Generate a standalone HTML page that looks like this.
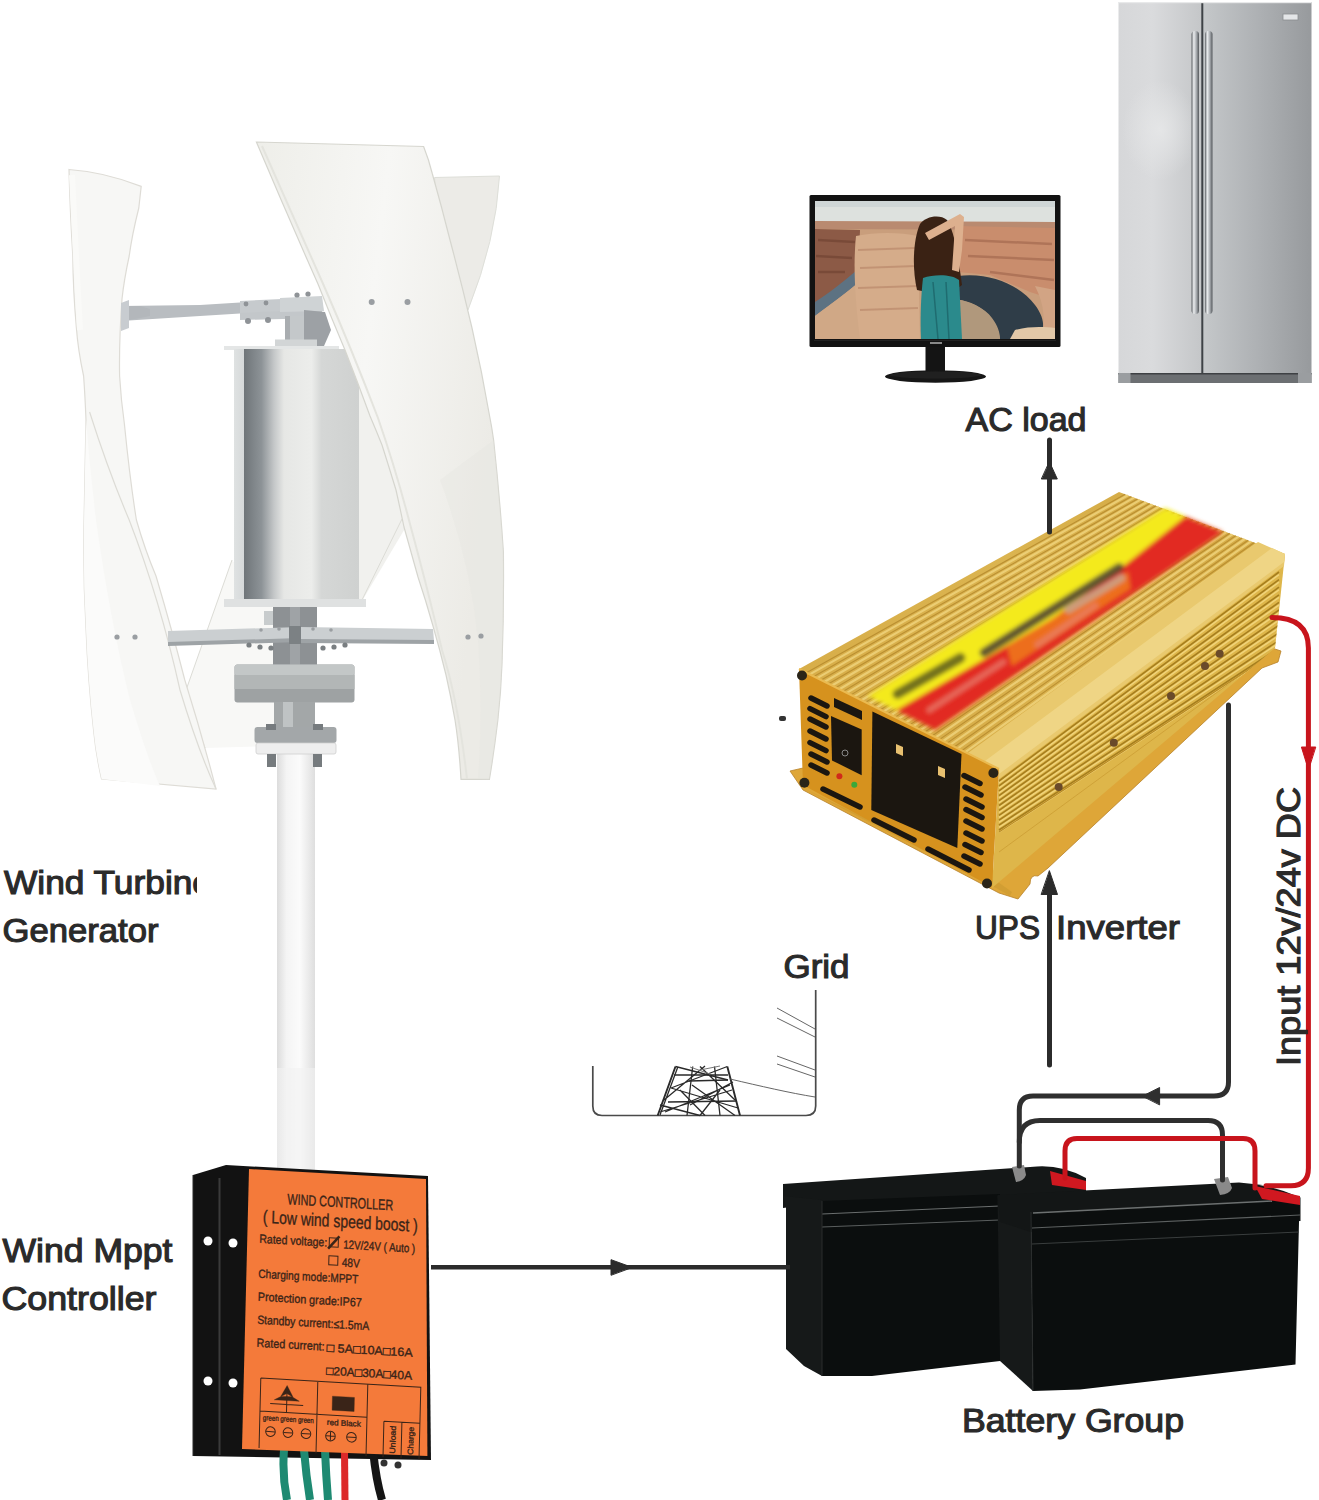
<!DOCTYPE html>
<html><head><meta charset="utf-8">
<style>
html,body{margin:0;padding:0;background:#fff;}
body{width:1319px;height:1500px;overflow:hidden;position:relative;font-family:"Liberation Sans",sans-serif;}
svg{position:absolute;left:0;top:0;display:block;}
.lbl{font-family:"Liberation Sans",sans-serif;font-weight:normal;fill:#2a2a2a;stroke:#2a2a2a;stroke-width:1.1px;font-size:32.5px;}
</style></head>
<body>
<svg width="1319" height="1500" viewBox="0 0 1319 1500">
<defs>
  <clipPath id="clipTurb"><rect x="0" y="0" width="197" height="1500"/></clipPath>
</defs>



<!-- TURBINE -->
<g id="turbine">
  <defs>
    <linearGradient id="cyl" x1="0" x2="1" y1="0" y2="0">
      <stop offset="0" stop-color="#dfe2e2"/><stop offset="0.08" stop-color="#d6d9da"/>
      <stop offset="0.08" stop-color="#6f7579"/><stop offset="0.22" stop-color="#8d9397"/><stop offset="0.32" stop-color="#c4c7c8"/>
      <stop offset="0.4" stop-color="#e6e7e5"/><stop offset="0.62" stop-color="#ecedeb"/><stop offset="0.7" stop-color="#d5d7d6"/><stop offset="1" stop-color="#cfd1d0"/>
    </linearGradient>
    <linearGradient id="pole" x1="0" x2="1"><stop offset="0" stop-color="#dcdcdc"/><stop offset="0.25" stop-color="#f4f4f4"/><stop offset="0.6" stop-color="#fbfbfb"/><stop offset="1" stop-color="#dedede"/></linearGradient>
    <linearGradient id="metal" x1="0" x2="1"><stop offset="0" stop-color="#8a8f92"/><stop offset="0.4" stop-color="#b9bdbf"/><stop offset="1" stop-color="#7c8184"/></linearGradient>
    <linearGradient id="disc" x1="0" x2="1"><stop offset="0" stop-color="#8f9497"/><stop offset="0.5" stop-color="#a9adaf"/><stop offset="1" stop-color="#8a8f91"/></linearGradient>
    <linearGradient id="bladeM" x1="0" y1="0" x2="1" y2="0.3"><stop offset="0" stop-color="#eeeee9"/><stop offset="0.5" stop-color="#f7f7f5"/><stop offset="1" stop-color="#ecebe6"/></linearGradient>
  </defs>
  <!-- back blade R (upper) -->
  <path d="M434.6,177.5 L499.5,176 Q496,240 468,310 L440,330 Z" fill="#ecebe7" stroke="#dedfd9" stroke-width="1"/>
  <!-- back blade R lower -->
  <path d="M355,370 L410,520 L359,606 Z" fill="#f1f1ee"/>
  <path d="M402,519 L359,606" stroke="#dcdcd6" stroke-width="1"/>
  <path d="M232,560 L300,640 L300,745 L205,748 L185,693 Z" fill="#f8f8f6"/>
  <path d="M232,560 L185,693 L205,748" fill="none" stroke="#dcdcd6" stroke-width="1"/>
  <!-- L blade -->
  <path d="M69,169.5 Q105,172 141.2,186.4 L138.8,208 Q132,235 129.2,256 Q124,280 122,299 Q119,340 119.6,376 Q121,400 124.4,424 Q130,480 136.4,520 Q145,550 156,576 Q172,630 184.8,680 Q202,735 216,789 L101.6,779 Q96,755 93.8,732 Q88,680 86,628 Q83,576 84,524 Q85,470 86,420 Q85,395 83.6,376 Q78,350 76.4,328 Q73,290 72.8,256 Q70,210 69,169.5 Z" fill="#f7f7f5" stroke="#dedcd6" stroke-width="1.2"/>
  <path d="M89.6,412 Q108,470 129.2,520 Q160,600 180,690 Q198,750 216,789" fill="none" stroke="#dddcd6" stroke-width="1.2"/>
  <path d="M86,420 Q90,470 96,520 Q110,620 130,700 Q148,760 160,786 L101.6,779 Q96,755 93.8,732 Q88,680 86,628 Q83,576 84,524 Z" fill="#fbfbfa"/>
  <path d="M72,175 Q76,260 80,330" stroke="#fafaf8" stroke-width="6" fill="none"/>
  <!-- pole -->
  <rect x="277" y="745" width="38" height="425" fill="url(#pole)"/>
  <rect x="277" y="1068" width="38" height="102" fill="#f1f1f1" opacity="0.6"/>
  <!-- top arm -->
  <path d="M121,306 L200,305 L282,300 L282,311 L200,316 L121,321 Z" fill="#b9bdc1"/>
  <path d="M121,303 L129,300 L129,328 L121,331 Z" fill="#c8ccd0"/>
  <path d="M129,306 L140,306 L150,309 L150,316 L140,318 L129,320 Z" fill="#b3b7bb"/>
  <path d="M240,312 L322,309 L322,318 L240,320 Z" fill="#c3c7ca"/>
  <path d="M240,301 L282,299 L282,311 L240,313 Z" fill="#c6cacd"/>
  <path d="M280,298 L322,296 L324,311 L280,312 Z" fill="#cfd3d5"/>
  <g fill="#8f9397"><circle cx="246" cy="304" r="2.4"/><circle cx="266" cy="303" r="2.4"/><circle cx="248" cy="321" r="3"/><circle cx="268" cy="320" r="3"/><circle cx="297" cy="295" r="2.6"/><circle cx="308" cy="294" r="2.6"/></g>
  <!-- top shaft -->
  <rect x="285" y="316" width="20" height="25" fill="#c4c8ca"/>
  <rect x="285" y="316" width="5" height="25" fill="#a9adb0"/>
  <path d="M304,310 L325,312 L331,330 L324,346 L304,346 Z" fill="#9da1a5"/>
  <rect x="275" y="339.5" width="42" height="8" fill="#d2d5d6"/>
  <!-- cylinder -->
  <rect x="224" y="346" width="115" height="4" fill="#e4e6e6"/>
  <rect x="234" y="349" width="125" height="252" fill="url(#cyl)"/>
  <rect x="224" y="599" width="142" height="8" fill="#dfe1e1"/>
  <!-- lower shaft & arms -->
  <rect x="273" y="607" width="44" height="63" fill="#8d9194"/>
  <rect x="290" y="607" width="10" height="63" fill="#9fa3a6"/>
  <path d="M264,611 L273,611 L273,625 L264,625 Z" fill="#c8cccd"/>
  <path d="M168,631 L300,627 L300,640 L168,644 Z" fill="#cbcfd1"/>
  <path d="M168,642 L300,638 L300,642 L168,646 Z" fill="#9ea3a6"/>
  <path d="M300,627 L433,629 L434,641 L300,640 Z" fill="#cbcfd1"/>
  <path d="M300,639 L434,640 L434,644 L300,643 Z" fill="#9ea3a6"/>
  <rect x="289" y="626" width="12" height="18" fill="#7c8184"/>
  <g fill="#7a7f82"><circle cx="249" cy="645" r="2.6"/><circle cx="260" cy="647" r="2.6"/><circle cx="271" cy="648" r="2.6"/><circle cx="323" cy="648" r="2.6"/><circle cx="334" cy="647" r="2.6"/><circle cx="345" cy="645" r="2.6"/></g>
  <g fill="#9a9ea1"><circle cx="261" cy="630" r="1.8"/><circle cx="279" cy="629" r="1.8"/><circle cx="313" cy="629" r="1.8"/><circle cx="331" cy="630" r="1.8"/></g>
  <!-- disc -->
  <rect x="234.5" y="664.5" width="120" height="38" rx="3" fill="#9ea2a3"/>
  <rect x="234.5" y="664.5" width="120" height="11" rx="3" fill="#c3c7c7"/>
  <rect x="234.5" y="675" width="120" height="14" fill="#b2b6b6"/>
  <rect x="274" y="702" width="41" height="25" fill="#a3a7a8"/>
  <rect x="283" y="702" width="10" height="25" fill="#bfc3c4"/>
  <!-- tflange -->
  <rect x="254.5" y="727" width="82" height="16" rx="3" fill="#a3a7a9"/>
  <rect x="256" y="743" width="80" height="11" rx="2" fill="#eeeeee" stroke="#cfcfcf" stroke-width="0.8"/>
  <g fill="#767b7e"><rect x="266" y="724" width="10" height="6"/><rect x="313" y="724" width="10" height="6"/><rect x="267" y="754" width="9" height="13"/><rect x="313" y="754" width="9" height="13"/></g>
  <!-- M blade (front) -->
  <path d="M256.4,142 L423.6,146.5 Q429,160 432.4,174 Q442,208 450,240 Q462,285 472,328 Q482,372 489.6,416 Q492,428 493.6,440 Q500,500 503.4,552 Q504,610 502,664 Q501,692 497.8,720.5 Q494,752 489.4,779.4 L461,779.4 Q459,745 455,720 Q451,697 446,675 Q440,650 433,626 Q426,601 418,577 Q411,552 404,527 Q400,508 396,490 Q389,467 382,445 Q376,430 370,416 Q358,383 345,350 Q331,317 318,284 Q286,212 256.4,142 Z" fill="url(#bladeM)" stroke="#d6d6cf" stroke-width="1.2"/>
  <path d="M262,146 Q292,214 324,286 Q352,350 378,418 Q396,470 410,524 Q428,590 442,650 Q458,700 467,779" fill="none" stroke="#e4e4de" stroke-width="2"/>
  <path d="M440,480 Q470,560 478,640 Q483,710 478,779 L489.4,779.4 Q494,752 497.8,720.5 Q501,692 502,664 Q504,610 503.4,552 Q500,500 493.6,440 Z" fill="#e6e5e0" opacity="0.4"/>
  <g fill="#9a9ea2"><circle cx="371.7" cy="302" r="3"/><circle cx="407.5" cy="302" r="3"/><circle cx="468" cy="637" r="2.6"/><circle cx="481" cy="636" r="2.6"/><circle cx="117" cy="637" r="2.6"/><circle cx="135" cy="637" r="2.6"/></g>
</g>

<!-- FRIDGE -->
<g id="fridge">
  <defs>
    <linearGradient id="frL" x1="0" x2="1" y1="0" y2="0"><stop offset="0" stop-color="#d6d7d9"/><stop offset="0.4" stop-color="#dadbdd"/><stop offset="1" stop-color="#c4c6c8"/></linearGradient>
    <linearGradient id="frR" x1="0" x2="1" y1="0" y2="0"><stop offset="0" stop-color="#c5c8ca"/><stop offset="0.5" stop-color="#aeb1b4"/><stop offset="1" stop-color="#979a9d"/></linearGradient>
    <linearGradient id="hdl" x1="0" x2="1"><stop offset="0" stop-color="#5e6266"/><stop offset="0.3" stop-color="#eceef0"/><stop offset="0.65" stop-color="#a8acb0"/><stop offset="1" stop-color="#54585c"/></linearGradient>
    <radialGradient id="frBlob" cx="0.5" cy="0.5" r="0.5"><stop offset="0" stop-color="#e6e7e8" stop-opacity="0.9"/><stop offset="1" stop-color="#e6e7e8" stop-opacity="0"/></radialGradient>
  </defs>
  <rect x="1118.5" y="2" width="84" height="372" fill="url(#frL)"/>
  <rect x="1202.5" y="2" width="109" height="372" fill="url(#frR)"/>
  <ellipse cx="1160" cy="130" rx="38" ry="50" fill="url(#frBlob)"/>
  <rect x="1201.3" y="3" width="2" height="370" fill="#3e4246"/>
  <rect x="1118.5" y="373" width="193" height="10" fill="#6c6f72"/><rect x="1118.5" y="373" width="193" height="1.5" fill="#3e4144"/>
  <rect x="1118.5" y="373" width="12" height="10" fill="#9a9da0"/>
  <rect x="1298" y="373" width="13.5" height="10" fill="#9a9da0"/>
  <rect x="1118.5" y="2" width="193" height="1.2" fill="#e8e9ea"/>
  <rect x="1191.5" y="31" width="7.5" height="283" rx="3.5" fill="url(#hdl)"/>
  <rect x="1205" y="31" width="7.5" height="283" rx="3.5" fill="url(#hdl)"/>
  <rect x="1283" y="14" width="15" height="6" fill="#e4e6e8" stroke="#8a8d90" stroke-width="0.8"/>
</g>

<!-- MONITOR -->
<g id="monitor">
  <defs>
    <clipPath id="scr"><rect x="815" y="201" width="240" height="138"/></clipPath>
    <linearGradient id="sky" x1="0" y1="0" x2="0" y2="1"><stop offset="0" stop-color="#c4ccce"/><stop offset="1" stop-color="#d9d6cc"/></linearGradient>
  </defs>
  <rect x="809.5" y="195" width="251" height="152" rx="1.5" fill="#121212"/>
  <g clip-path="url(#scr)">
    <rect x="815" y="201" width="240" height="138" fill="#c99e7c"/>
    <rect x="815" y="201" width="240" height="21" fill="#dde1de"/>
    <rect x="815" y="201" width="240" height="6" fill="#cfd6d6"/>
    <path d="M815,221 L1055,222 L1055,230 L815,229 Z" fill="#b98a70"/>
    <path d="M815,229 L860,230 L858,275 L840,290 L815,305 Z" fill="#8c5a46"/>
    <path d="M818,240 L855,242 M816,256 L852,258 M818,272 L845,272" stroke="#6e4030" stroke-width="2.5" opacity="0.6"/>
    <path d="M815,302 C828,294 843,282 857,270 L859,282 C846,293 830,305 815,316 Z" fill="#5d7282"/>
    <path d="M815,316 C830,305 846,293 859,282 L862,339 L815,339 Z" fill="#d0a886"/>
    <path d="M856,236 C875,232 900,232 918,236 L920,339 L860,339 C855,300 853,265 856,236 Z" fill="#d5ac8a"/>
    <path d="M858,250 L915,248 M860,268 L916,266 M858,288 L918,286 M860,310 L918,308" stroke="#b07c60" stroke-width="2" opacity="0.5"/>
    <path d="M955,226 L1055,228 L1055,300 L1030,292 L990,275 L958,272 Z" fill="#c98d6d"/>
    <path d="M965,240 L1052,244 M968,256 L1054,260 M990,272 L1054,280" stroke="#9a6048" stroke-width="2.5" opacity="0.55"/>
    <path d="M958,276 C990,272 1020,285 1035,305 C1045,318 1045,330 1040,339 L1000,339 C998,325 990,312 975,305 C968,302 962,300 958,300 Z" fill="#2f3d48"/>
    <path d="M958,300 C968,300 985,308 992,318 C998,326 1000,333 1000,339 L958,339 Z" fill="#b0987c"/>
    <path d="M1035,286 L1055,290 L1055,339 L1040,339 C1046,325 1045,305 1035,286 Z" fill="#d2a484"/>
    <path d="M1015,330 C1030,326 1045,327 1055,328 L1055,339 L1010,339 Z" fill="#e2c8a8"/>
    <!-- woman -->
    <path d="M920,224 C926,216 940,214 947,220 C954,230 958,255 962,285 C955,292 935,294 917,290 C912,268 913,240 920,224 Z" fill="#3a2214"/>
    <path d="M925,233 L960,214 L964,217 L962,250 L959,272 L952,270 L955,226 L929,240 Z" fill="#ddb08e"/>
    <path d="M923,278 C934,274 952,274 959,280 L962,339 L921,339 C920,318 921,295 923,278 Z" fill="#2b8a8c"/>
    <path d="M933,282 L938,339 M946,282 L949,339" stroke="#1f6c70" stroke-width="1.5"/>
  </g>
  <rect x="814" y="340" width="242" height="1" fill="#222"/>
  <rect x="925.5" y="347" width="19.5" height="25" fill="#141414"/>
  <ellipse cx="935.5" cy="376.5" rx="50.5" ry="6.2" fill="#161616"/>
  <ellipse cx="935.5" cy="375" rx="46" ry="3.5" fill="#202020"/>
  <rect x="930" y="342" width="12" height="2" fill="#888"/>
</g>

<!-- BATTERIES -->
<g id="batteries">
  <path d="M783,1184 L1037,1166.5 Q1062,1165 1086,1178 L1086,1193 L1000,1197 L822,1203 L783,1208 Z" fill="#141717"/>
  <path d="M783,1196 L822,1200 L822,1376 L804,1366 L786,1349 L786,1207 Z" fill="#161919"/>
  <path d="M822,1201 L1000,1194 L1000,1361 L872,1376 L822,1376 Z" fill="#0b0e0e"/>
  <path d="M822,1214 L1000,1206" stroke="#6a6e6e" stroke-width="1.2"/>
  <path d="M822,1227 L1000,1220" stroke="#5a5e5e" stroke-width="1"/>
  <path d="M822,1201 L822,1376" stroke="#2a2d2d" stroke-width="1"/>
  <path d="M1050,1171 L1086,1181 L1086,1190 L1052,1185 Z" fill="#d01820"/>
  <path d="M1012,1167 L1024,1165 L1026,1175 Q1024,1181 1016,1182 Z" fill="#8a8a8a"/>
  <path d="M997.5,1196 L1031,1212 L1033,1391 L1000,1361 Z" fill="#161919"/>
  <path d="M997.5,1195 L1239,1182.4 Q1270,1184 1300.5,1197.4 L1300.5,1221 L1031,1232 L1000,1222 Z" fill="#131616"/>
  <path d="M1031,1214 L1300,1199 L1299,1222 L1295.5,1364.5 L1080,1389.4 L1033,1391 Z" fill="#0b0e0e"/>
  <path d="M1033,1213 L1272,1201" stroke="#6c7070" stroke-width="1.3"/>
  <path d="M1032,1228 L1300,1215" stroke="#5c6060" stroke-width="1.1"/>
  <path d="M1032,1244 L1299,1232" stroke="#3a3e3e" stroke-width="1"/>
  <path d="M1031,1212 L1033,1391" stroke="#2a2d2d" stroke-width="1"/>
  <path d="M1255,1186 L1300,1196 L1300,1205 L1262,1199 Z" fill="#d01820"/>
  <path d="M1214,1179 L1228,1177 L1232,1188 Q1230,1194 1220,1195 Z" fill="#8a8a8a"/>
</g>

<!-- INVERTER -->
<g id="inverter">
  <defs>
    <linearGradient id="invTop" x1="0" y1="1" x2="1" y2="0"><stop offset="0" stop-color="#d6ab46"/><stop offset="0.6" stop-color="#dbb450"/><stop offset="1" stop-color="#d2a842"/></linearGradient>
    <filter id="blur3" x="-20%" y="-20%" width="140%" height="140%"><feGaussianBlur stdDeviation="2.2"/></filter>
  </defs>
  <!-- flange -->
  <path d="M790,771 L803,768 L995,872 L1272,648 L1281,651 L1278,662 L1262,668 L1048,868 L1038,876 Q1030,874 1030,884 L1018,899 L999,893 L803,790 Z" fill="#dea638" stroke="#b8822a" stroke-width="0.8"/>
  <path d="M803,788 L996,888 L1010,896 L1012,892 L998,882 Z" fill="#c99a30" opacity="0.6"/>
  
  
  <!-- right side -->
  <clipPath id="sideClip"><path d="M999,769 L1285,554 L1275,648 L992,888 Z"/></clipPath>
  <path d="M999,769 L1285,554 L1275,648 L992,888 Z" fill="#deb64a"/>
  <g clip-path="url(#sideClip)">
  <path d="M999,783.2L1279,574.6M999,788.1L1279,582.2M999,793.0L1279,589.8M999,797.9L1279,597.4M999,802.8L1279,605.0M999,807.7L1279,612.6M999,812.6L1279,620.2M999,817.5L1279,627.8M999,822.4L1279,635.4M999,827.3L1279,643.0M999,832.2L1279,650.6" stroke="#f2d67e" stroke-width="1.6" fill="none" opacity="0.9"/>
  <path d="M999,781.0L1279,572.0M999,785.9L1279,579.6M999,790.8L1279,587.2M999,795.7L1279,594.8M999,800.6L1279,602.4M999,805.5L1279,610.0M999,810.4L1279,617.6M999,815.3L1279,625.2M999,820.2L1279,632.8M999,825.1L1279,640.4M999,830.0L1279,648.0" stroke="#9c7416" stroke-width="1.6" fill="none" opacity="0.85"/>
  <path d="M999,832 L1279,650" stroke="#b88a24" stroke-width="1.2" fill="none"/>
  <path d="M999,852 L1275,650" stroke="#c99a30" stroke-width="1" fill="none" opacity="0.7"/>
  </g>
  <!-- top -->
  <path d="M799,669 L1119,492 L1285,554 L999,769 Z" fill="url(#invTop)"/>
  <path d="M809.7,674.4L1127.9,495.3M817.1,678.1L1134.1,497.6M824.6,681.8L1140.2,499.9M832.0,685.5L1146.4,502.2M839.4,689.2L1152.5,504.5M846.8,692.9L1158.7,506.8M854.2,696.6L1164.8,509.1M861.6,700.3L1171.0,511.4M869.0,704.0L1177.1,513.7M876.4,707.7L1183.2,516.0M883.8,711.4L1189.4,518.3M891.2,715.1L1195.5,520.6M898.6,718.8L1201.7,522.9M906.0,722.5L1207.8,525.2M913.4,726.2L1214.0,527.5M920.9,729.9L1220.1,529.8M928.3,733.6L1226.3,532.1M935.7,737.3L1232.4,534.4M943.1,741.0L1238.6,536.7M950.5,744.7L1244.7,539.0M957.9,748.4L1250.9,541.3M965.3,752.1L1257.0,543.6M972.7,755.9L1263.2,545.8M980.1,759.6L1269.3,548.1M987.5,763.3L1275.5,550.4M994.9,767.0L1281.6,552.7" stroke="#f0d47e" stroke-width="2.2" fill="none" opacity="0.8"/><path d="M806.4,672.7L1125.1,494.3M813.8,676.4L1131.3,496.6M821.2,680.1L1137.4,498.9M828.6,683.8L1143.6,501.2M836.0,687.5L1149.7,503.5M843.4,691.2L1155.9,505.8M850.9,694.9L1162.0,508.1M858.3,698.6L1168.2,510.4M865.7,702.3L1174.3,512.7M873.1,706.0L1180.5,515.0M880.5,709.7L1186.6,517.3M887.9,713.4L1192.8,519.6M895.3,717.1L1198.9,521.9M902.7,720.9L1205.1,524.1M910.1,724.6L1211.2,526.4M917.5,728.3L1217.4,528.7M924.9,732.0L1223.5,531.0M932.3,735.7L1229.7,533.3M939.7,739.4L1235.8,535.6M947.1,743.1L1242.0,537.9M954.6,746.8L1248.1,540.2M962.0,750.5L1254.3,542.5M969.4,754.2L1260.4,544.8M976.8,757.9L1266.6,547.1M984.2,761.6L1272.7,549.4M991.6,765.3L1278.9,551.7" stroke="#b08428" stroke-width="1.1" fill="none" opacity="0.75"/>
  <path d="M968,753 L1258,542 L1285,554 L1284,566 L999,779 L999,769 Z" fill="#e9c96e"/>
  <path d="M985,761 L1272,548 L1285,554 L1284,562 L999,774 L999,769 Z" fill="#efd585"/>
  
  <!-- label -->
  <g filter="url(#blur3)">
    <path d="M868.0,696.0 L1165.0,508.0 L1223.0,532.0 L935.0,730.0 Z" fill="#f4ea1e"/>
    <path d="M896.1,710.3 L974.6,664.8 L1052.8,618.8 L1120.9,568.2 L1185.3,516.4 L1223.0,532.0 L935.0,730.0 Z" fill="#e22a22"/>
    <path d="M1007.1,647.0 L1128.1,571.4 L1130.5,588.7 L1011.8,666.0 Z" fill="#f0801e" opacity="0.8"/>
    <path d="M984.1,652.6 L1119.1,567.5" stroke="#4a4030" stroke-width="9" stroke-linecap="round" opacity="0.85"/>
    <path d="M897.5,694.0 L960.4,657.8" stroke="#4a4a20" stroke-width="10" stroke-linecap="round" opacity="0.75"/>
    <path d="M929.4,710.1 L1003.4,661.9 M1037.5,644.8 L1095.5,605.6" stroke="#e88070" stroke-width="6" stroke-linecap="round" opacity="0.7"/>
    <path d="M1068.6,609.7 L1121.2,578.1" stroke="#c8a890" stroke-width="8" stroke-linecap="round" opacity="0.8"/>
  </g>
  <!-- front face -->
  <path d="M799,669 L999,769 L992,887 L803,785 Z" fill="#d6921e"/>
  <path d="M799,669 L999,769" stroke="#eaba50" stroke-width="2"/>
  <g fill="#1b1610">
    <path d="M872.4,711.6 L961.5,754 L957.3,848 L871.3,810 Z"/>
    <path d="M831,716 L861.7,729.6 L861.7,775.3 L832,760.4 Z"/>
    <path d="M834,698 L862,711 L862,720 L834,707 Z"/>
  </g>
  <g fill="#e8c070">
    <path d="M896,744 L903,747 L903,756 L896,753 Z"/>
    <path d="M938,766 L945,769 L945,778 L938,775 Z"/>
  </g>
  <circle cx="845" cy="753" r="3" fill="none" stroke="#888" stroke-width="1"/>
  <circle cx="839.4" cy="776.3" r="3" fill="#d02a1a"/>
  <circle cx="854.3" cy="784.8" r="3" fill="#3aa83a"/>
  <g stroke="#1b1610" stroke-width="5.5" stroke-linecap="round">
    <path d="M811,698 L827,706 M810,708.6 L826,716.6 M810,719 L826,727 M810,731 L826,739 M810,742.6 L826,750.6 M811,754 L827,762 M811,765 L827,773"/>
    <path d="M964,775.5 L980,783.5 M965,787 L981,795 M966,799 L982,807 M966,809.5 L982,817.5 M966,821 L982,829 M966,833 L982,841 M965,844.5 L981,852.5 M964,856 L980,864"/>
    <path d="M823,789 L860,807 M874,820 L914,840 M928,849 L969,870"/>
  </g>
  <g fill="#2a2418">
    <circle cx="802" cy="675.5" r="5"/><circle cx="993.4" cy="773" r="5"/><circle cx="804.4" cy="782.7" r="5"/><circle cx="987" cy="883.5" r="5"/>
  </g>
  <g fill="#6a4a2a">
    <circle cx="1058.7" cy="787" r="4"/><circle cx="1113.8" cy="742.7" r="4"/><circle cx="1171" cy="696" r="4"/><circle cx="1205" cy="666" r="4"/><circle cx="1219.7" cy="653.7" r="4"/>
  </g>
</g>


<!-- CONTROLLER -->
<g id="controller">
  <path d="M193,1175 L226,1165 L428,1176 L431,1460 L193,1456 Z" fill="#121212"/>
  <path d="M219.5,1178 L219.5,1455" stroke="#3a3a3a" stroke-width="2"/>
  <path d="M193,1175 L193,1456" stroke="#2a2a2a" stroke-width="1"/>
  <g fill="#ffffff"><circle cx="208" cy="1241" r="4.5"/><circle cx="233" cy="1243" r="4.5"/><circle cx="208" cy="1381" r="4.5"/><circle cx="233" cy="1383" r="4.5"/></g>
  <!-- wires -->
  <g fill="none" stroke-linecap="butt">
    <path d="M284,1450 Q282,1475 287,1500" stroke="#1e8a72" stroke-width="8"/>
    <path d="M304,1450 Q306,1475 310,1500" stroke="#1e8a72" stroke-width="8"/>
    <path d="M325,1450 Q326,1475 328,1500" stroke="#1e8a72" stroke-width="8"/>
    <path d="M344.5,1450 L345,1500" stroke="#dc2a2a" stroke-width="7"/>
    <path d="M373,1450 Q376,1480 382,1500" stroke="#151515" stroke-width="8"/>
  </g>
  <circle cx="384" cy="1463" r="3.5" fill="#333"/><circle cx="398" cy="1465" r="3.5" fill="#333"/>
  <!-- orange label -->
  <path d="M249,1169 L426,1179 L427.4,1456 L242,1449 Z" fill="#f47a3a"/>
  <g transform="translate(249,1169) matrix(1 0.058 -0.025 1 0 0)" fill="#3a2418" stroke="#3a2418" stroke-width="0.35" font-family="Liberation Sans, sans-serif">
    <text x="39" y="33" font-size="15" textLength="106" lengthAdjust="spacingAndGlyphs">WIND CONTROLLER</text>
    <text x="15" y="53" font-size="18" textLength="155" lengthAdjust="spacingAndGlyphs">( Low wind speed boost )</text>
    <text x="12" y="73" font-size="12" textLength="68" lengthAdjust="spacingAndGlyphs">Rated voltage:</text>
    <text x="96" y="74" font-size="12" textLength="72" lengthAdjust="spacingAndGlyphs">12V/24V ( Auto )</text>
    <text x="95" y="92" font-size="12" textLength="18" lengthAdjust="spacingAndGlyphs">48V</text>
    <text x="12" y="108" font-size="12" textLength="100" lengthAdjust="spacingAndGlyphs">Charging mode:MPPT</text>
    <text x="12" y="131" font-size="12" textLength="104" lengthAdjust="spacingAndGlyphs">Protection grade:IP67</text>
    <text x="12" y="154" font-size="12" textLength="112" lengthAdjust="spacingAndGlyphs">Standby current:≤1.5mA</text>
    <text x="12" y="177" font-size="12" textLength="68" lengthAdjust="spacingAndGlyphs">Rated current:</text>
    <text x="82" y="178" font-size="12" textLength="86" lengthAdjust="spacingAndGlyphs">□ 5A□10A□16A</text>
    <text x="82" y="201" font-size="12" textLength="86" lengthAdjust="spacingAndGlyphs">□20A□30A□40A</text>
    <rect x="82" y="64" width="9" height="9" fill="none" stroke="#3a2418" stroke-width="1"/>
    <path d="M81,75 L92,62" stroke="#3a2418" stroke-width="2.5"/>
    <rect x="82" y="82" width="9" height="9" fill="none" stroke="#3a2418" stroke-width="1"/>
    <g fill="none" stroke="#3a2418" stroke-width="1">
      <path d="M17,208 L177,208 L177,280 M17,208 L17,278 M74,208 L74,280 M124,208 L124,280 M17,241 L124,241 M141,244 L141,280 M159,244 L159,280 M141,244 L177,244"/>
      <path d="M27,233 L60,233 M43.5,219 L43.5,241"/>
      <circle cx="28" cy="261" r="4.8"/><circle cx="45.5" cy="261" r="4.8"/><circle cx="63.5" cy="261" r="4.8"/>
      <circle cx="88" cy="262" r="4.8"/><circle cx="109" cy="262" r="4.8"/>
      <path d="M23.5,261 L32.5,261 M41,261 L50,261 M59,261 L68,261 M83.5,262 L92.5,262 M88,257.5 L88,266.5 M104.5,262 L113.5,262"/>
    </g>
    <path d="M37.5,225 L43.5,214 L49.5,225 Z M31,229 L56,229 L43.5,222 Z" fill="#3a2418"/>
    <rect x="89" y="222" width="22" height="14" fill="#3a2418"/>
    <text x="20" y="250" font-size="7.5" textLength="51" lengthAdjust="spacingAndGlyphs">green green green</text>
    <text x="84" y="251" font-size="8" textLength="34" lengthAdjust="spacingAndGlyphs">red  Black</text>
    <text transform="translate(153,276) rotate(-90)" font-size="8" textLength="28" lengthAdjust="spacingAndGlyphs">Unload</text>
    <text transform="translate(171,276) rotate(-90)" font-size="8" textLength="28" lengthAdjust="spacingAndGlyphs">Charge</text>
  </g>
</g>

<!-- WIRES / ARROWS -->
<g id="wires" fill="none" stroke-linecap="round" stroke-linejoin="round">
  <path d="M1049.5,440 L1049.5,532" stroke="#2b2b2b" stroke-width="5"/>
  <path d="M1049.5,462 L1057.3,479 L1041.7,479 Z" fill="#2b2b2b" stroke="#2b2b2b" stroke-width="1"/>
  <path d="M1049.5,880 L1049.5,1065" stroke="#2b2b2b" stroke-width="5"/>
  <path d="M1049.5,871 L1057.5,894.5 L1041.5,894.5 Z" fill="#2b2b2b" stroke="#2b2b2b" stroke-width="1"/>
  <path d="M431,1267.3 L790,1267.3" stroke="#2b2b2b" stroke-width="4.5" stroke-linecap="butt"/>
  <path d="M632,1267.3 L611,1259.7 L611,1274.9 Z" fill="#2b2b2b" stroke="#2b2b2b" stroke-width="1"/>
  <path d="M1228.5,705 L1228.5,1082 Q1228.5,1096 1214,1096 L1033,1096 Q1019.3,1096 1019.3,1110 L1019.3,1166" stroke="#2f2f2f" stroke-width="5"/>
  <path d="M1142.7,1096 L1159.6,1087.5 L1159.6,1104.5 Z" fill="#2f2f2f" stroke="#2f2f2f" stroke-width="1"/>
  <path d="M1019.3,1142 Q1019.3,1120.5 1040,1120.5 L1208,1120.5 Q1222.5,1120.5 1222.5,1135 L1222.5,1180" stroke="#2f2f2f" stroke-width="5"/>
  <path d="M1065,1178 L1065,1151 Q1065,1138.6 1077,1138.6 L1243,1138.6 Q1255,1138.6 1255,1151 L1255,1188" stroke="#c8141c" stroke-width="5"/>
  <path d="M1272,617.6 Q1308.4,617.6 1308.4,648 L1308.4,1168 Q1308.4,1185.7 1291,1185.7 L1266,1185.7" stroke="#c8141c" stroke-width="5"/>
  <path d="M1308.4,769.6 L1301.4,747 L1315.4,747 Z" fill="#c8141c" stroke="#c8141c" stroke-width="1"/>
  <rect x="779" y="716" width="7" height="5" rx="2" fill="#333" stroke="none"/>
</g>

<!-- GRID -->
<g id="grid" fill="none" stroke="#4a4a4a">
  <path d="M592.8,1066 L592.8,1106 Q592.8,1115.5 602,1115.5 L806,1115.5 Q815.7,1115.5 815.7,1106 L815.7,990" stroke-width="1.7"/>
  <g stroke="#2a2a2a" stroke-width="1.3" fill="none">
    <path d="M657.7,1115.5 L675.5,1066.5 M740,1115.5 L727.3,1066.5" stroke-width="1.9"/>
    <path d="M692.7,1066.5 L687,1115.5 M714.5,1066.5 L720,1115.5"/>
    <path d="M674,1075 L728,1075 M689,1081 L728,1080 M668,1102 L737,1101"/>
    <path d="M675.5,1066.5 L728,1080 M727.3,1066.5 L671,1088 M671,1088 L738,1108 M732,1090 L660,1112 M678,1066.5 L660,1115 M660,1105 L700,1115.5 M692,1085 L735,1115.5 M705,1066 L664,1100 M690,1105 L733,1082 M665,1112 L730,1085 M700,1066.5 L735,1100 M720,1090 L700,1115.5 M680,1090 L705,1115.5"/>
    <path d="M690,1067 L710,1074 M700,1070 L720,1066" stroke="#777" stroke-width="1"/>
  </g>
  <path d="M777,1008 L815,1029 M777,1018 L815,1037 M777,1056 L815,1070 M777,1064 L815,1077 M730,1079 C760,1086 790,1093 815,1097" stroke="#555" stroke-width="0.9"/>
</g>

<!-- LABELS -->
<g id="labels">
  <text class="lbl" x="965.5" y="431" textLength="121" lengthAdjust="spacingAndGlyphs">AC load</text>
  <text class="lbl" x="975" y="938.5" textLength="65" lengthAdjust="spacingAndGlyphs">UPS</text>
  <text class="lbl" x="1056" y="938.5" textLength="124" lengthAdjust="spacingAndGlyphs">Inverter</text>
  <text class="lbl" x="783.5" y="977.5" textLength="66" lengthAdjust="spacingAndGlyphs">Grid</text>
  <g clip-path="url(#clipTurb)"><text class="lbl" x="4" y="894" textLength="208" lengthAdjust="spacingAndGlyphs">Wind Turbine</text></g>
  <text class="lbl" x="2.5" y="942" textLength="156" lengthAdjust="spacingAndGlyphs">Generator</text>
  <text class="lbl" x="2.5" y="1261.5" textLength="170" lengthAdjust="spacingAndGlyphs">Wind Mppt</text>
  <text class="lbl" x="1.5" y="1310" textLength="155" lengthAdjust="spacingAndGlyphs">Controller</text>
  <text class="lbl" x="962" y="1432" textLength="222" lengthAdjust="spacingAndGlyphs">Battery Group</text>
  <text class="lbl" transform="translate(1300,1066) rotate(-90)" x="0" y="0" textLength="279" lengthAdjust="spacingAndGlyphs">Input 12v/24v DC</text>
</g>

</svg>
</body></html>
